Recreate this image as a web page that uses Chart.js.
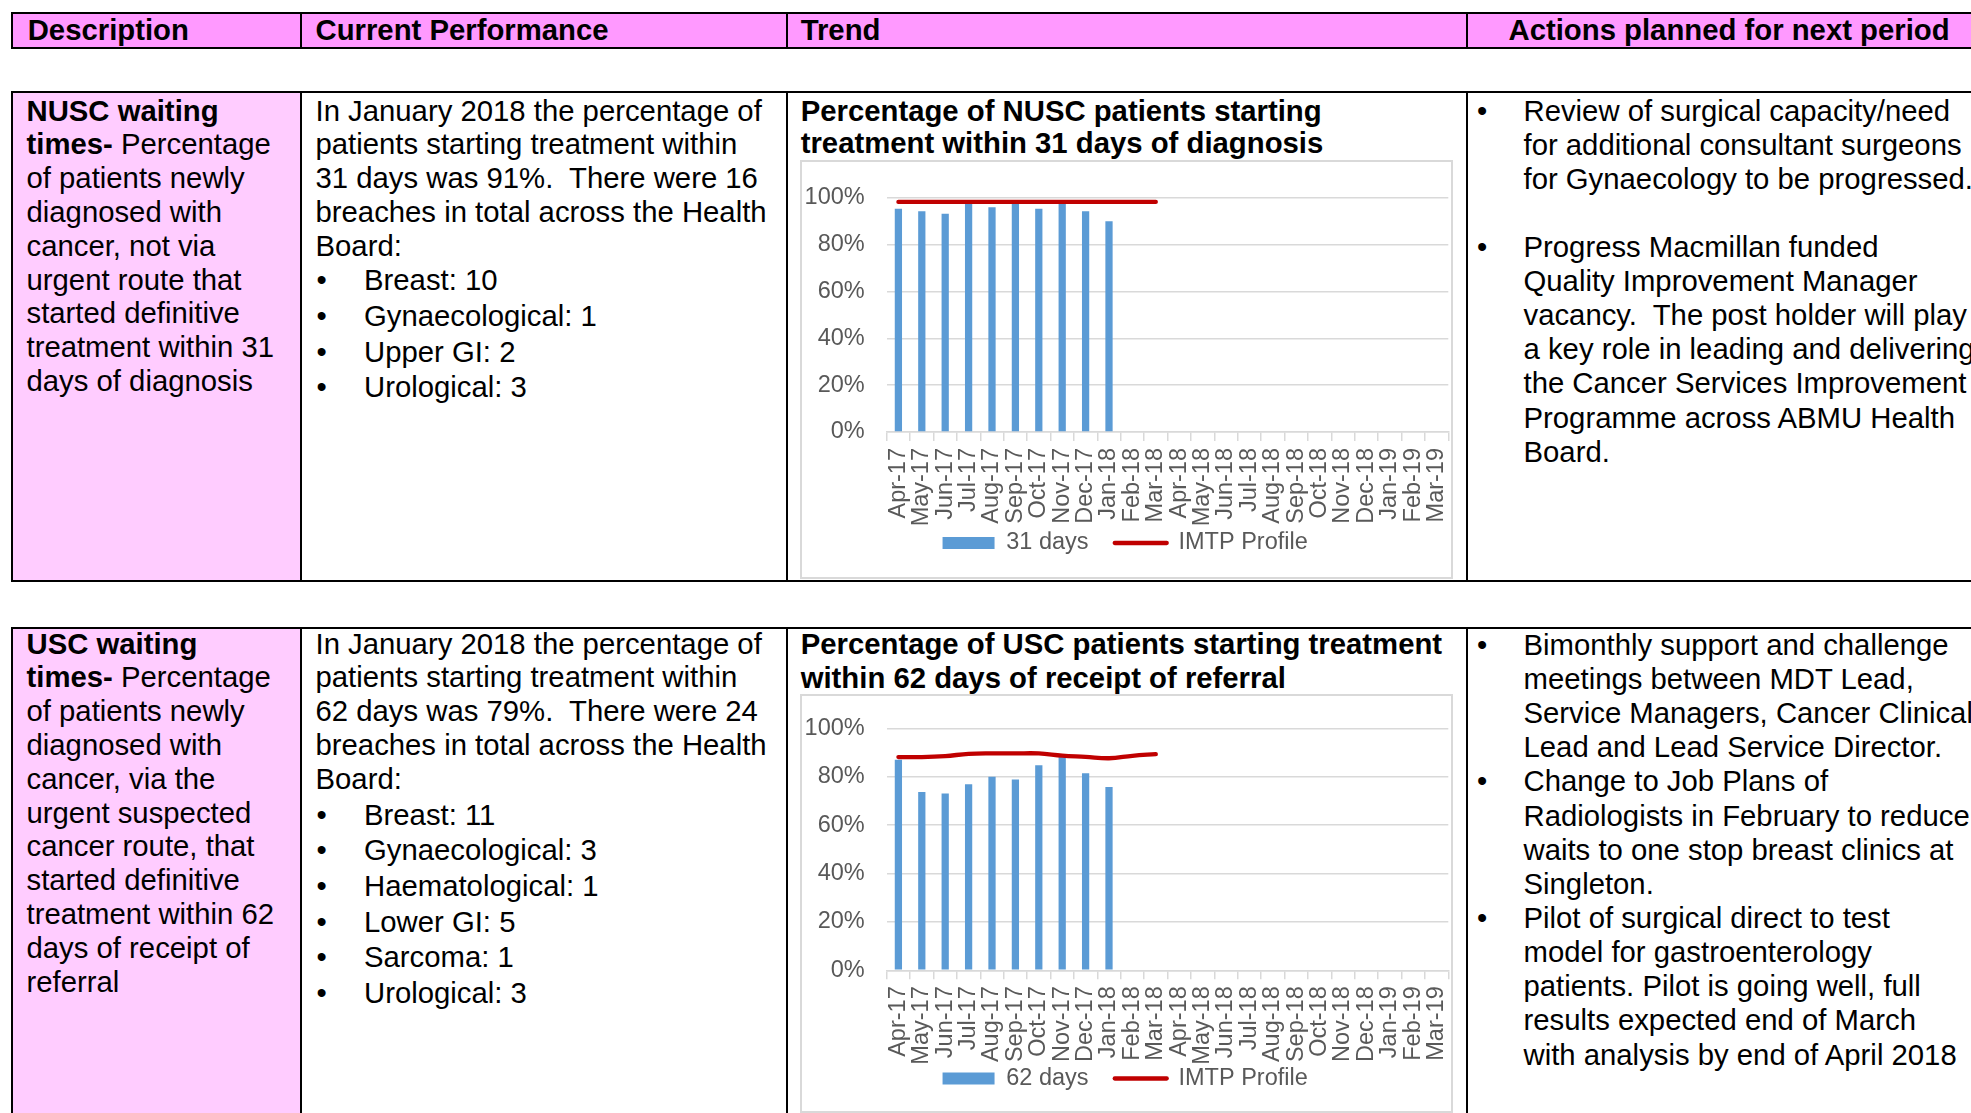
<!DOCTYPE html>
<html><head><meta charset="utf-8">
<script src="https://cdn.jsdelivr.net/npm/chart.js@4/dist/chart.umd.min.js"></script>
<style>
html,body{margin:0;padding:0;width:1971px;height:1113px;overflow:hidden;background:#fff;}
body{position:relative;font-family:'Liberation Sans',Arial,sans-serif;font-size:29.3px;color:#000;}
.ln{position:absolute;white-space:pre;line-height:34px;height:34px;}
.box{position:absolute;border:2px solid #000;box-sizing:border-box;}
.vl{position:absolute;width:2px;background:#000;}
.pk{position:absolute;background:#ffccff;}
.cb{position:absolute;border:2px solid #d9d9d9;box-sizing:border-box;background:#fff;}
.cb canvas{position:absolute;left:0;top:0;}
</style></head><body>
<!-- header -->
<div class="box" style="left:11px;top:12px;width:2100px;height:37px;background:#ff99ff"></div>
<div class="vl" style="left:300px;top:12px;height:37px"></div>
<div class="vl" style="left:786px;top:12px;height:37px"></div>
<div class="vl" style="left:1466px;top:12px;height:37px"></div>
<!-- row 1 -->
<div class="box" style="left:11px;top:91px;width:2100px;height:491px"></div>
<div class="pk" style="left:13px;top:93px;width:287px;height:487px"></div>
<div class="vl" style="left:300px;top:91px;height:491px"></div>
<div class="vl" style="left:786px;top:91px;height:491px"></div>
<div class="vl" style="left:1466px;top:91px;height:491px"></div>
<!-- row 2 -->
<div class="box" style="left:11px;top:627px;width:2100px;height:600px"></div>
<div class="pk" style="left:13px;top:629px;width:287px;height:600px"></div>
<div class="vl" style="left:300px;top:627px;height:600px"></div>
<div class="vl" style="left:786px;top:627px;height:600px"></div>
<div class="vl" style="left:1466px;top:627px;height:600px"></div>

<div class="cb" style="left:800px;top:160px;width:653px;height:419px"><canvas id="c1" width="649" height="415" style="width:649px;height:415px"></canvas></div>
<div class="cb" style="left:800px;top:694px;width:653px;height:419px"><canvas id="c2" width="649" height="415" style="width:649px;height:415px"></canvas></div>

<script>
// ---------- chart data ----------
const months = ['Apr-17','May-17','Jun-17','Jul-17','Aug-17','Sep-17','Oct-17','Nov-17','Dec-17','Jan-18','Feb-18','Mar-18',
                'Apr-18','May-18','Jun-18','Jul-18','Aug-18','Sep-18','Oct-18','Nov-18','Dec-18','Jan-19','Feb-19','Mar-19'];
const nusc31Days = [95.3, 94.2, 93.2, 98.0, 95.9, 98.0, 95.3, 98.0, 94.2, 89.9];
const nuscImtpProfile = [98.2, 98.2, 98.2, 98.2, 98.2, 98.2, 98.2, 98.2, 98.2, 98.2, 98.2, 98.2];
const usc62Days = [87.1, 73.7, 73.1, 76.9, 80.0, 78.9, 84.8, 88.4, 81.5, 75.8];
const uscImtpProfile = [88.2, 88.2, 88.6, 89.5, 89.7, 89.7, 89.7, 88.8, 88.3, 87.7, 88.7, 89.4];
const yTickValues = [0, 20, 40, 60, 80, 100];

// ---------- table text ----------
function put(x, center, html, bold) {
  const d = document.createElement('div');
  d.className = 'ln';
  d.style.left = x + 'px';
  d.style.top = (center - 17) + 'px';
  d.innerHTML = html;
  if (bold) d.style.fontWeight = 'bold';
  document.body.appendChild(d);
}
function block(x, c0, step, arr, bulletX, bold) {
  arr.forEach((s, i) => {
    if (!s) return;
    const c = c0 + i * step;
    if (s.startsWith('• ')) { put(bulletX - 5.1, c, '•'); s = s.slice(2); }
    put(x, c, s, bold);
  });
}
// header
put(27.7, 30, 'Description', true);
put(315.5, 30, 'Current Performance', true);
put(800.7, 30, 'Trend', true);
put(1508.5, 30, 'Actions planned for next period', true);

// row 1
block(26.5, 110.6, 33.8, ['<b>NUSC waiting</b>','<b>times-</b> Percentage','of patients newly','diagnosed with','cancer, not via','urgent route that','started definitive','treatment within 31','days of diagnosis']);
block(315.5, 110.6, 33.8, ['In January 2018 the percentage of','patients starting treatment within','31 days was 91%.  There were 16','breaches in total across the Health','Board:']);
block(364, 280.3, 35.6, ['• Breast: 10','• Gynaecological: 1','• Upper GI: 2','• Urological: 3'], 321.5);
block(800.7, 110.7, 32.5, ['Percentage of NUSC patients starting','treatment within 31 days of diagnosis'], 0, true);
block(1523.5, 110.6, 34.1, ['• Review of surgical capacity/need','for additional consultant surgeons','for Gynaecology to be progressed.','',
  '• Progress Macmillan funded','Quality Improvement Manager','vacancy.  The post holder will play','a key role in leading and delivering','the Cancer Services Improvement','Programme across ABMU Health','Board.'], 1482);

// row 2
block(26.5, 643.6, 33.8, ['<b>USC waiting</b>','<b>times-</b> Percentage','of patients newly','diagnosed with','cancer, via the','urgent suspected','cancer route, that','started definitive','treatment within 62','days of receipt of','referral']);
block(315.5, 643.6, 33.8, ['In January 2018 the percentage of','patients starting treatment within','62 days was 79%.  There were 24','breaches in total across the Health','Board:']);
block(364, 814.5, 35.7, ['• Breast: 11','• Gynaecological: 3','• Haematological: 1','• Lower GI: 5','• Sarcoma: 1','• Urological: 3'], 321.5);
block(800.7, 644.3, 33.5, ['Percentage of USC patients starting treatment','within 62 days of receipt of referral'], 0, true);
block(1523.5, 644.8, 34.15, ['• Bimonthly support and challenge','meetings between MDT Lead,','Service Managers, Cancer Clinical','Lead and Lead Service Director.',
  '• Change to Job Plans of','Radiologists in February to reduce','waits to one stop breast clinics at','Singleton.',
  '• Pilot of surgical direct to test','model for gastroenterology','patients. Pilot is going well, full','results expected end of March','with analysis by end of April 2018'], 1482);

// ---------- charts ----------
const FF = "'Liberation Sans', Arial, sans-serif";
const GREY = '#595959';
const GRID = '#D9D9D9';

function makeChart(id, barLabel, barData, lineData, geo, tension) {
  return new Chart(document.getElementById(id), {
    type: 'bar',
    data: {
      labels: months,
      datasets: [
        { type: 'bar', label: barLabel, data: barData, backgroundColor: '#5B9BD5', borderWidth: 0,
          barPercentage: 0.31, categoryPercentage: 1, order: 1 },
        { type: 'line', label: 'IMTP Profile', data: lineData, borderColor: '#C00000', backgroundColor: '#C00000',
          borderWidth: 4.3, pointRadius: 0, pointHoverRadius: 0, tension: tension, borderCapStyle: 'round',
          borderJoinStyle: 'round', fill: false, order: 0 }
      ]
    },
    options: {
      responsive: false, animation: false, devicePixelRatio: 1,
      layout: { padding: { left: 0, right: 2.7, top: geo.top, bottom: geo.bottom } },
      plugins: {
        tooltip: { enabled: false },
        legend: {
          position: 'bottom',
          labels: {
            usePointStyle: true, pointStyleWidth: 52, boxHeight: 12, padding: 0,
            color: GREY, font: { size: 23.5, family: FF },
            sort: (a, b) => a.datasetIndex - b.datasetIndex,
            generateLabels: (chart) => {
              const items = Chart.defaults.plugins.legend.labels.generateLabels(chart);
              items.forEach(it => {
                const ds = chart.data.datasets[it.datasetIndex];
                if (ds.type === 'line') {
                  it.pointStyle = 'line'; it.lineWidth = 4.3; it.strokeStyle = '#C00000'; it.lineCap = 'round';
                } else {
                  it.pointStyle = 'rect'; it.lineWidth = 0; it.fillStyle = '#5B9BD5'; it.strokeStyle = '#5B9BD5';
                  it.text = it.text + '    ';
                }
              });
              return items;
            }
          }
        }
      },
      scales: {
        x: {
          offset: true,
          grid: { offset: true, drawOnChartArea: false, drawTicks: true, tickLength: 9, color: GRID, lineWidth: 1.5 },
          border: { color: GRID, width: 1.5 },
          ticks: { autoSkip: false, minRotation: 90, maxRotation: 90, padding: 7, color: GREY, font: { size: 23.5, family: FF } },
          afterFit: (s) => { s.height = geo.xh; s.paddingLeft = 0; s.paddingRight = 0; }
        },
        y: {
          min: 0, max: 100,
          afterBuildTicks: (s) => { s.ticks = yTickValues.map(v => ({ value: v })); },
          ticks: { padding: 22, color: GREY, font: { size: 23.5, family: FF }, callback: (v) => v + '%' },
          grid: { color: GRID, lineWidth: 1.5, drawTicks: false },
          border: { display: false },
          afterFit: (s) => { s.width = 84.7; s.paddingTop = 0; s.paddingBottom = 0; }
        }
      }
    }
  });
}

makeChart('c1', '31 days', nusc31Days, nuscImtpProfile, { top: 35.7, bottom: 12.25, xh: 99.25 }, 0);
makeChart('c2', '62 days', usc62Days, uscImtpProfile, { top: 32.5, bottom: 10.75, xh: 96.45 }, 0.4);
</script>
</body></html>
